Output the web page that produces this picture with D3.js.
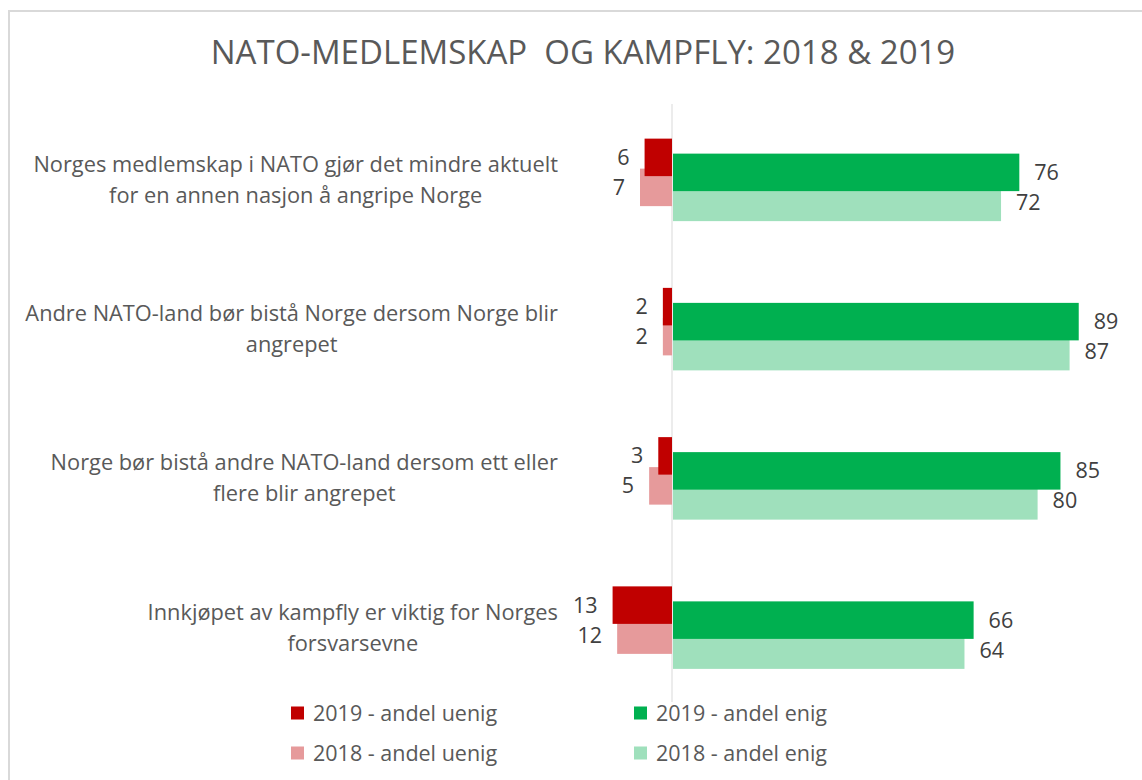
<!DOCTYPE html>
<html>
<head>
<meta charset="utf-8">
<script src="https://cdn.jsdelivr.net/npm/d3@7"></script>
<style>
  body { margin: 0; background: #fff; }
  text { font-family: "Open Sans", sans-serif; }
</style>
</head>
<body>
<div id="chart"></div>
<script>
// Data
const categories = [
    ["Norges medlemskap i NATO gjør det mindre aktuelt", "for en annen nasjon å angripe Norge"],
    ["Andre NATO-land bør bistå Norge dersom Norge blir", "angrepet"],
    ["Norge bør bistå andre NATO-land dersom ett eller", "flere blir angrepet"],
    ["Innkjøpet av kampfly er viktig for Norges", "forsvarsevne"]
];
const uenig2019 = [6, 2, 3, 13];
const uenig2018 = [7, 2, 5, 12];
const enig2019 = [76, 89, 85, 66];
const enig2018 = [72, 87, 80, 64];

const seriesNames = ["2019 - andel uenig", "2018 - andel uenig", "2019 - andel enig", "2018 - andel enig"];
const seriesColors = ["#c00000", "#e69a9b", "#00b050", "#9fe0bc"];

let width = 1142, height = 780;

let svg = d3.select("#chart")
    .append("svg")
    .attr("width", width)
    .attr("height", height);

// outer frame (only top/left edges visible)
svg.append("rect")
    .attr("x", 9).attr("y", 11)
    .attr("width", 1300).attr("height", 900)
    .attr("fill", "none")
    .attr("stroke", "#d9d9d9")
    .attr("stroke-width", 2);

// title
svg.append("text")
    .attr("x", 583)
    .attr("y", 64)
    .attr("text-anchor", "middle")
    .attr("font-size", 33)
    .attr("fill", "#595959")
    .style("white-space", "pre")
    .text("NATO-MEDLEMSKAP  OG KAMPFLY: 2018 & 2019");

// scales
let xScale = d3.scaleLinear()
    .domain([0, 100])
    .range([672, 1129]);

let yScale = d3.scaleBand()
    .domain(d3.range(categories.length))
    .range([105, 702]);

// offsets of each bar within a category band (relative to band centre)
const barH = 37.5;
const barOffset = { u2019: -41, u2018: -11, e2019: -26, e2018: 4 };
const mid = i => yScale(i) + yScale.bandwidth() / 2;

// axis line at zero
svg.append("line")
    .attr("x1", xScale(0)).attr("x2", xScale(0))
    .attr("y1", 104).attr("y2", 702)
    .attr("stroke", "#d9d9d9")
    .attr("stroke-width", 1);

// bars: draw 2018 first so 2019 overlaps it
const negSeries = [
    { key: "u2018", values: uenig2018, color: seriesColors[1] },
    { key: "u2019", values: uenig2019, color: seriesColors[0] }
];
const posSeries = [
    { key: "e2018", values: enig2018, color: seriesColors[3] },
    { key: "e2019", values: enig2019, color: seriesColors[2] }
];

negSeries.forEach(s => {
    svg.append("g")
        .selectAll("rect")
        .data(s.values)
        .join("rect")
            .attr("x", d => xScale(-d))
            .attr("y", (d, i) => mid(i) + barOffset[s.key])
            .attr("width", d => xScale(0) - xScale(-d))
            .attr("height", barH)
            .attr("fill", s.color);
});

posSeries.forEach(s => {
    svg.append("g")
        .selectAll("rect")
        .data(s.values)
        .join("rect")
            .attr("x", xScale(0) + 1)
            .attr("y", (d, i) => mid(i) + barOffset[s.key])
            .attr("width", d => xScale(d) - xScale(0) - 1)
            .attr("height", barH)
            .attr("fill", s.color);
});

// value labels
negSeries.concat(posSeries).forEach(s => {
    let neg = s.key[0] === "u";
    svg.append("g")
        .attr("font-size", 21.5)
        .attr("fill", "#404040")
        .attr("text-anchor", neg ? "end" : "start")
        .selectAll("text")
        .data(s.values)
        .join("text")
            .attr("x", d => neg ? xScale(-d) - 15 : xScale(d) + 15)
            .attr("y", (d, i) => mid(i) + barOffset[s.key] + barH / 2)
            .attr("dy", "0.35em")
            .text(d => d);
});

// category labels: centred text block, right edge at 558
const labelRight = 558, lineH = 31;
categories.forEach((lines, i) => {
    let g = svg.append("g")
        .attr("font-size", 21.8)
        .attr("fill", "#595959")
        .attr("text-anchor", "middle");
    let t = g.selectAll("text")
        .data(lines)
        .join("text")
            .attr("y", (d, j) => mid(i) + (j - (lines.length - 1) / 2) * lineH)
            .attr("dy", "0.35em")
            .text(d => d);
    let maxW = d3.max(t.nodes(), n => n.getComputedTextLength());
    t.attr("x", labelRight - maxW / 2);
});

// legend
const legendItems = [
    { name: seriesNames[0], color: seriesColors[0], x: 291, y: 713 },
    { name: seriesNames[1], color: seriesColors[1], x: 291, y: 753 },
    { name: seriesNames[2], color: seriesColors[2], x: 634, y: 713 },
    { name: seriesNames[3], color: seriesColors[3], x: 634, y: 753 }
];
const legend = svg.append("g");
legend.selectAll("rect")
    .data(legendItems)
    .join("rect")
        .attr("x", d => d.x)
        .attr("y", d => d.y - 6.5)
        .attr("width", 13).attr("height", 13)
        .attr("fill", d => d.color);
legend.selectAll("text")
    .data(legendItems)
    .join("text")
        .attr("x", d => d.x + 22)
        .attr("y", d => d.y)
        .attr("dy", "0.35em")
        .attr("font-size", 21.5)
        .attr("fill", "#595959")
        .text(d => d.name);
</script>
</body>
</html>
